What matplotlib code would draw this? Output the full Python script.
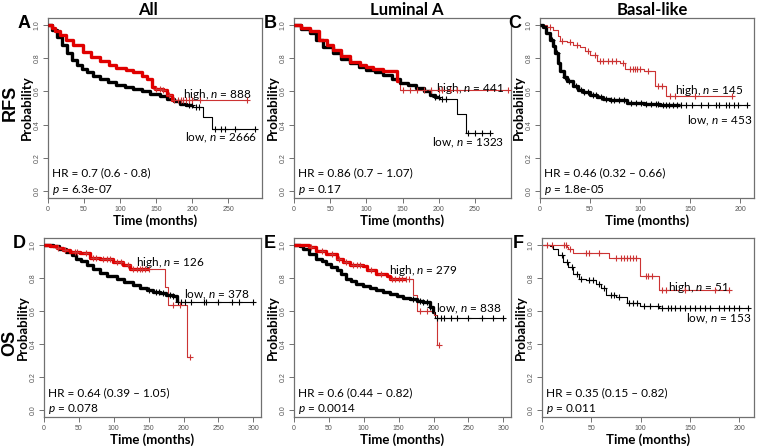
import matplotlib
matplotlib.use('Agg')
import matplotlib.pyplot as plt
import numpy as np

matplotlib.rcParams.update({
    'font.family': ['Lato', 'DejaVu Sans'],
    'mathtext.fontset': 'custom',
    'mathtext.rm': 'Lato',
    'mathtext.it': 'Lato:italic',
    'axes.linewidth': 0.9,
    'axes.edgecolor': '#707070',
    'xtick.color': '#707070',
    'ytick.color': '#707070',
    'xtick.labelcolor': '#555555',
    'ytick.labelcolor': '#555555',
    'xtick.major.size': 3.5,
    'ytick.major.size': 3.5,
    'xtick.major.width': 0.7,
    'ytick.major.width': 0.7,
})

col_titles = ['All', 'Luminal A', 'Basal-like']
row_titles = ['RFS', 'OS']
letters = ['A', 'B', 'C', 'D', 'E', 'F']

hr_text = ['HR = 0.7 (0.6 - 0.8)', 'HR = 0.86 (0.7 \u2013 1.07)', 'HR = 0.46 (0.32 \u2013 0.66)',
           'HR = 0.64 (0.39 \u2013 1.05)', 'HR = 0.6 (0.44 \u2013 0.82)', 'HR = 0.35 (0.15 \u2013 0.82)']
p_text = ['6.3e-07', '0.17', '1.8e-05', '0.078', '0.0014', '0.011']
n_high = [888, 441, 145, 126, 279, 51]
n_low = [2666, 1323, 453, 378, 838, 153]

# Kaplan-Meier step points (time in months, survival)
high_t = [
    [0, 5, 10, 17, 25, 35, 49, 60, 72, 85, 95, 108, 118, 130, 137, 144, 148, 160, 165, 172],
    [0, 10, 22, 35, 45, 54, 65, 77, 91, 100, 109, 123, 142, 146],
    [0, 7, 13, 18, 20, 27, 33, 40, 45, 50, 57, 80, 85, 104, 115, 126],
    [0, 8, 18, 27, 37, 51, 66, 80, 99, 113, 123, 174, 178, 205],
    [0, 13, 22, 32, 46, 61, 70, 80, 99, 104, 118, 133, 137, 171, 176, 200, 205],
    [0, 25, 26, 31, 68, 99, 119],
]
high_s = [
    [1.0, 0.98, 0.96, 0.937, 0.91, 0.875, 0.838, 0.805, 0.78, 0.76, 0.74, 0.728, 0.715, 0.69, 0.675, 0.626, 0.614, 0.61, 0.58, 0.546],
    [1.0, 0.98, 0.96, 0.907, 0.875, 0.848, 0.81, 0.778, 0.758, 0.745, 0.733, 0.719, 0.66, 0.605],
    [1.0, 0.988, 0.968, 0.93, 0.9, 0.893, 0.879, 0.863, 0.84, 0.82, 0.783, 0.77, 0.736, 0.72, 0.634, 0.57],
    [1.0, 0.99, 0.982, 0.97, 0.958, 0.948, 0.92, 0.915, 0.895, 0.875, 0.851, 0.746, 0.636, 0.322],
    [1.0, 0.998, 0.985, 0.964, 0.944, 0.914, 0.894, 0.878, 0.87, 0.844, 0.824, 0.81, 0.79, 0.695, 0.599, 0.575, 0.395],
    [1.0, 0.984, 0.974, 0.95, 0.918, 0.811, 0.726],
]
high_end = [276, 296, 192, 209, 208, 190]
high_cens = [
    [150, 155, 160, 168, 175, 180, 185, 188, 192, 196, 200, 211, 276],
    [150, 160, 170, 180, 190, 200, 205, 215, 225, 296],
    [10, 22, 30, 37, 48, 55, 60, 63, 68, 72, 76, 83, 90, 93, 95, 97, 100, 108, 118, 122, 130, 135, 155, 192],
    [20, 30, 45, 48, 60, 70, 75, 85, 90, 95, 105, 110, 120, 128, 133, 137, 140, 145, 150, 185, 195, 209],
    [25, 40, 55, 65, 75, 85, 90, 95, 110, 125, 140, 145, 150, 155, 160, 165, 180, 190, 208],
    [5, 10, 22, 24, 28, 45, 48, 58, 75, 80, 83, 86, 89, 92, 95, 105, 108, 112, 122, 126, 145, 175, 190],
]
high_dense = [175, 145, 0, 150, 160, 0]

low_t = [
    [0, 5, 12, 20, 26, 33, 40, 47, 54, 63, 72, 83, 95, 107, 118, 130, 142, 155, 165, 175, 183, 192, 201, 215, 228],
    [0, 10, 22, 30, 40, 54, 65, 77, 90, 100, 112, 123, 135, 146, 158, 169, 180, 188, 195, 202, 225, 238],
    [0, 3, 6, 10, 13, 15, 18, 20, 24, 27, 33, 38, 43, 50, 57, 63, 70, 87, 104, 120],
    [0, 13, 22, 32, 40, 46, 53, 61, 70, 80, 90, 104, 115, 128, 138, 147, 156, 166, 175, 185, 190],
    [0, 8, 13, 22, 32, 40, 46, 53, 61, 68, 75, 82, 89, 99, 109, 118, 128, 137, 147, 156, 166, 176, 185, 195, 199, 202],
    [0, 8, 11, 16, 21, 26, 31, 38, 45, 55, 60, 65, 75, 86, 99, 119],
]
low_s = [
    [1.0, 0.97, 0.927, 0.875, 0.828, 0.79, 0.758, 0.733, 0.713, 0.69, 0.673, 0.655, 0.64, 0.627, 0.614, 0.6, 0.584, 0.57, 0.556, 0.54, 0.525, 0.515, 0.507, 0.448, 0.372],
    [1.0, 0.975, 0.947, 0.905, 0.867, 0.828, 0.795, 0.768, 0.745, 0.729, 0.714, 0.699, 0.675, 0.65, 0.635, 0.62, 0.6, 0.58, 0.565, 0.554, 0.461, 0.347],
    [1.0, 0.984, 0.95, 0.91, 0.87, 0.83, 0.77, 0.72, 0.685, 0.664, 0.63, 0.61, 0.594, 0.578, 0.565, 0.555, 0.547, 0.53, 0.525, 0.515],
    [1.0, 0.99, 0.972, 0.954, 0.935, 0.915, 0.9, 0.88, 0.855, 0.829, 0.81, 0.795, 0.775, 0.755, 0.74, 0.726, 0.715, 0.706, 0.698, 0.692, 0.652],
    [1.0, 0.99, 0.974, 0.944, 0.914, 0.9, 0.884, 0.864, 0.844, 0.82, 0.794, 0.778, 0.764, 0.75, 0.739, 0.727, 0.715, 0.702, 0.689, 0.68, 0.671, 0.66, 0.651, 0.625, 0.595, 0.559],
    [1.0, 0.99, 0.974, 0.935, 0.895, 0.865, 0.825, 0.795, 0.785, 0.765, 0.736, 0.696, 0.686, 0.646, 0.632, 0.616],
]
low_end = [287, 271, 207, 300, 300, 209]
low_cens = [
    [195, 200, 205, 210, 232, 240, 245, 260, 287],
    [195, 200, 205, 210, 240, 250, 260, 271],
    [12, 17, 25, 29, 36, 41, 44, 48, 53, 56, 61, 66, 71, 74, 79, 84, 91, 96, 101, 106, 111, 116, 118, 123, 126, 129, 133, 137,
     141, 146, 152, 161, 168, 176, 179, 186, 189, 194, 198, 207],
    [150, 160, 165, 170, 180, 185, 192, 197, 202, 210, 230, 232, 250, 270, 280, 300],
    [170, 180, 185, 190, 195, 205, 210, 215, 225, 233, 250, 270, 285, 300],
    [20, 25, 30, 35, 40, 48, 52, 58, 63, 70, 73, 78, 88, 92, 96, 103, 110, 118, 122, 128, 131, 135, 140, 145, 150, 155,
     160, 165, 170, 180, 185, 190, 195, 200, 209],
]
low_dense = [200, 200, 140, 190, 200, 0]

# label anchor positions (data coords, right aligned)
high_lab = [(283, 0.58), (291, 0.62), (203, 0.606), (231, 0.895), (235, 0.844), (190, 0.74)]
low_lab = [(290, 0.323), (291, 0.29), (212, 0.42), (294, 0.696), (297, 0.615), (212, 0.553)]

xmax = [297, 300, 214, 311, 311, 215]
xticks = [np.arange(0, 251, 50), np.arange(0, 251, 50), np.arange(0, 201, 50),
          np.arange(0, 301, 50), np.arange(0, 301, 50), np.arange(0, 201, 50)]

W, H = 758, 448
# axes boxes in pixels: left, right, top, bottom
boxes = [(48, 262, 18, 198), (294, 511, 18, 198), (540, 754, 18, 198),
         (44, 261, 238, 417), (294, 511, 238, 417), (542, 754, 238, 417)]


def step_at(t, s, x):
    idx = np.searchsorted(t, x, side='right') - 1
    return np.asarray(s)[idx]


def draw_km(ax, t, s, end, cens, dense, thin_col, thick_col):
    tt = list(t) + [end]
    ss = list(s) + [s[-1]]
    ax.step(tt, ss, where='post', color=thin_col, lw=0.8, zorder=2)
    if dense > 0:
        td = [v for v in t if v <= dense] + [dense]
        sd = [v for v, tv in zip(s, t) if tv <= dense]
        sd = sd + [sd[-1]]
        ax.step(td, sd, where='post', color=thick_col, lw=2.4, zorder=3,
                solid_capstyle='butt')
    ax.plot(cens, step_at(t, s, np.array(cens)), ls='none', marker='+',
            ms=4, mew=0.8, color=thin_col, zorder=4)


fig = plt.figure(figsize=(W / 100, H / 100), dpi=100)

for i in range(6):
    l, r, tp, bt = boxes[i]
    ax = fig.add_axes([l / W, 1 - bt / H, (r - l) / W, (bt - tp) / H])
    draw_km(ax, low_t[i], low_s[i], low_end[i], low_cens[i], low_dense[i], '#000000', '#000000')
    draw_km(ax, high_t[i], high_s[i], high_end[i], high_cens[i], high_dense[i], '#cc3333', '#e00000')
    ax.set_xlim(0, xmax[i])
    ax.set_ylim(-0.04, 1.04)
    ax.set_xticks(xticks[i])
    ax.set_yticks(np.arange(0, 1.01, 0.2))
    ax.set_yticklabels(['%.1f' % v for v in np.arange(0, 1.01, 0.2)], rotation=90, va='center')
    ax.tick_params(labelsize=5, pad=2)
    for lab in ax.get_xticklabels() + ax.get_yticklabels():
        lab.set_fontfamily('Liberation Sans')
    ax.set_xlabel('Time (months)', fontsize=9.5, fontweight='bold', labelpad=1)
    ax.set_ylabel('Probability', fontsize=9.5, fontweight='bold', labelpad=0)

    hx, hy = high_lab[i]
    ax.text(hx, hy, 'high, $n$ = %d' % n_high[i], ha='right', va='center', fontsize=8.5)
    lx, ly = low_lab[i]
    ax.text(lx, ly, 'low, $n$ = %d' % n_low[i], ha='right', va='center', fontsize=8.5)
    ax.text(0.02, 0.138, hr_text[i], transform=ax.transAxes, ha='left', va='center', fontsize=8.5)
    ax.text(0.02, 0.046, '$p$ = %s' % p_text[i], transform=ax.transAxes, ha='left', va='center', fontsize=8.5)

# column titles
for x, s in zip([148, 407, 652], col_titles):
    fig.text(x / W, 1 - 10 / H, s, ha='center', va='center', fontsize=12, fontweight='bold')

# panel letters
for (x, y), s in zip([(24, 24), (270, 24), (515, 24), (19, 244), (270, 244), (518, 244)], letters):
    fig.text(x / W, 1 - y / H, s, ha='center', va='center', fontsize=13, fontweight='bold',
             family='Liberation Sans')

# row titles
for y, s in zip([103, 343], row_titles):
    fig.text(10 / W, 1 - y / H, s, ha='center', va='center', fontsize=13, fontweight='bold',
             rotation=90, family='Liberation Sans')

fig.savefig('out.png', dpi=100)
